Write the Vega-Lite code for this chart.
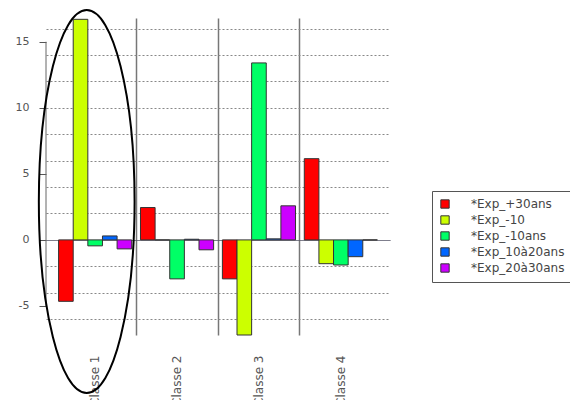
{
  "$schema": "https://vega.github.io/schema/vega-lite/v6.json",
  "autosize": {"type": "none"},
  "padding": {"left": 46, "top": 18, "right": 180, "bottom": 65},
  "width": 344,
  "height": 317,
  "background": "white",
  "config": {
    "view": {"stroke": null},
    "font": "DejaVu Sans",
    "legend": {
      "orient": "none",
      "legendX": 386,
      "legendY": 173,
      "strokeColor": "#555",
      "padding": 7,
      "symbolType": "square",
      "symbolSize": 70,
      "symbolStrokeColor": "#333",
      "symbolStrokeWidth": 1,
      "labelFont": "DejaVu Sans",
      "labelFontSize": 12,
      "labelColor": "#444",
      "labelOffset": 20,
      "rowPadding": 2,
      "labelLimit": 200
    }
  },
  "data": {
    "values": [
      {"classe": "Classe 1", "serie": "*Exp_+30ans", "valeur": -4.65},
      {"classe": "Classe 1", "serie": "*Exp_-10", "valeur": 16.7},
      {"classe": "Classe 1", "serie": "*Exp_-10ans", "valeur": -0.45},
      {"classe": "Classe 1", "serie": "*Exp_10à20ans", "valeur": 0.3},
      {"classe": "Classe 1", "serie": "*Exp_20à30ans", "valeur": -0.68},
      {"classe": "Classe 2", "serie": "*Exp_+30ans", "valeur": 2.45},
      {"classe": "Classe 2", "serie": "*Exp_-10", "valeur": 0.0},
      {"classe": "Classe 2", "serie": "*Exp_-10ans", "valeur": -2.95},
      {"classe": "Classe 2", "serie": "*Exp_10à20ans", "valeur": 0.05},
      {"classe": "Classe 2", "serie": "*Exp_20à30ans", "valeur": -0.75},
      {"classe": "Classe 3", "serie": "*Exp_+30ans", "valeur": -2.95},
      {"classe": "Classe 3", "serie": "*Exp_-10", "valeur": -7.2},
      {"classe": "Classe 3", "serie": "*Exp_-10ans", "valeur": 13.4},
      {"classe": "Classe 3", "serie": "*Exp_10à20ans", "valeur": 0.08},
      {"classe": "Classe 3", "serie": "*Exp_20à30ans", "valeur": 2.58},
      {"classe": "Classe 4", "serie": "*Exp_+30ans", "valeur": 6.15},
      {"classe": "Classe 4", "serie": "*Exp_-10", "valeur": -1.8},
      {"classe": "Classe 4", "serie": "*Exp_-10ans", "valeur": -1.9},
      {"classe": "Classe 4", "serie": "*Exp_10à20ans", "valeur": -1.27},
      {"classe": "Classe 4", "serie": "*Exp_20à30ans", "valeur": 0.0}
    ]
  },
  "resolve": {"axis": {"x": "independent", "y": "independent"}},
  "layer": [
    {
      "mark": {"type": "bar", "stroke": "#333", "strokeWidth": 1},
      "encoding": {
        "x": {
          "field": "classe",
          "type": "nominal",
          "scale": {"paddingInner": 0, "paddingOuter": 0.1},
          "axis": {
            "orient": "bottom",
            "title": null,
            "labelAngle": 270,
            "labelPadding": 20,
            "ticks": false,
            "domain": false,
            "grid": false,
            "labelColor": "#555",
            "labelFontSize": 12
          }
        },
        "xOffset": {
          "field": "serie",
          "type": "nominal",
          "sort": ["*Exp_+30ans", "*Exp_-10", "*Exp_-10ans", "*Exp_10à20ans", "*Exp_20à30ans"],
          "scale": {"paddingInner": 0, "paddingOuter": 0.3}
        },
        "y": {
          "field": "valeur",
          "type": "quantitative",
          "scale": {"domain": [-7.2, 16.8], "nice": false, "zero": false},
          "axis": {
            "title": null,
            "orient": "left",
            "values": [-5, 0, 5, 10, 15],
            "labelExpr": "'' + datum.value",
            "labelOverlap": false,
            "labelFlush": false,
            "domain": false,
            "grid": false,
            "tickColor": "#555",
            "tickSize": 7,
            "labelPadding": 10,
            "labelColor": "#555",
            "labelFontSize": 11
          }
        },
        "color": {
          "field": "serie",
          "type": "nominal",
          "sort": ["*Exp_+30ans", "*Exp_-10", "*Exp_-10ans", "*Exp_10à20ans", "*Exp_20à30ans"],
          "scale": {
            "domain": ["*Exp_+30ans", "*Exp_-10", "*Exp_-10ans", "*Exp_10à20ans", "*Exp_20à30ans"],
            "range": ["#FF0000", "#CCFF00", "#00FF66", "#0066FF", "#CC00FF"]
          },
          "legend": {"title": null}
        }
      }
    },
    {
      "data": {"values": [{}]},
      "mark": {"type": "rule", "color": "#666", "strokeWidth": 1},
      "encoding": {
        "x": {"value": 0},
        "y": {
          "datum": -5,
          "type": "quantitative",
          "axis": {
            "title": null,
            "orient": "left",
            "values": [-6, -4, -2, 0, 2, 4, 6, 8, 10, 12, 14, 16],
            "labels": false,
            "ticks": false,
            "domain": false,
            "grid": true,
            "gridColor": {"condition": {"test": "datum.value === 0", "value": "#556"}, "value": "#888"},
            "gridDash": {"condition": {"test": "datum.value === 0", "value": [1, 0]}, "value": [2, 2]},
            "gridWidth": 1
          }
        },
        "y2": {"datum": 15}
      }
    },
    {
      "transform": [{"filter": "datum.classe === 'Classe 1' && datum.serie === '*Exp_+30ans'"}],
      "mark": {
        "type": "point",
        "shape": "M-0.044,-1C0.094,-1 0.206,-0.552 0.206,0C0.206,0.552 0.094,1 -0.044,1C-0.182,1 -0.294,0.552 -0.294,0C-0.294,-0.552 -0.182,-1 -0.044,-1Z",
        "size": 146689,
        "filled": false,
        "stroke": "black",
        "strokeWidth": 2,
        "opacity": 1
      },
      "encoding": {
        "x": {
          "field": "classe",
          "type": "nominal",
          "axis": {
            "orient": "top",
            "title": null,
            "labels": false,
            "ticks": false,
            "domain": false,
            "grid": true,
            "bandPosition": 0,
            "gridColor": {"condition": {"test": "datum.value === 'Classe 1'", "value": "transparent"}, "value": "#777"},
            "gridWidth": 1.5,
            "gridDash": []
          }
        },
        "y": {"datum": 2.9, "type": "quantitative", "axis": null}
      }
    }
  ]
}
